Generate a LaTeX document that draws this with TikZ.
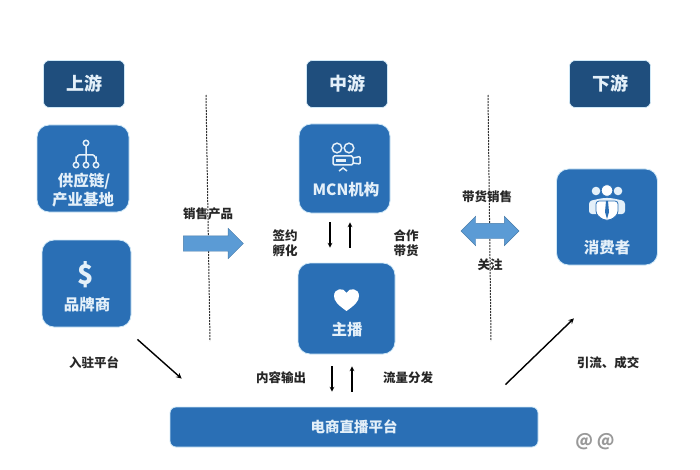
\documentclass[tikz,border=0pt]{standalone}
\usepackage{fontspec}
\setmainfont{Noto Sans CJK SC}
\usetikzlibrary{shapes.arrows}
\definecolor{headblue}{HTML}{1F4E7D}
\definecolor{boxblue}{HTML}{2A6FB5}
\definecolor{arrowblue}{HTML}{5B9BD5}
\definecolor{halo}{HTML}{CFE8F7}
\definecolor{boxtext}{HTML}{E4F0F9}

\begin{document}
\begin{tikzpicture}[x=1pt,y=-1pt,thick]
    % `header' is for the three column titles.
    % `actor' is for the blue boxes, `actortext' for the words on them.
    % `note' is for the black labels beside the arrows.
    \tikzstyle{header} = [fill=headblue,draw=halo,line width=0.6pt,rounded corners=6pt,minimum width=81pt,minimum height=47pt,inner sep=0pt,text=boxtext,font=\bfseries\fontsize{18}{18}\selectfont]
    \tikzstyle{actor} = [fill=boxblue,draw=halo,line width=0.8pt,rounded corners=12pt,inner sep=0pt]
    \tikzstyle{actortext} = [text=boxtext,inner sep=0pt,font=\bfseries\fontsize{15.5}{15.5}\selectfont]
    \tikzstyle{note} = [text=black!85,inner sep=0pt,font=\bfseries\fontsize{12.5}{12.5}\selectfont]
    \tikzstyle{divider} = [black!80,line width=1pt,dash pattern=on 2pt off 1pt]
    \tikzstyle{link} = [black,line width=1.1pt,-stealth]
    \tikzstyle{glyph} = [draw=boxtext,line width=1.5pt]
    \useasboundingbox (0,0) rectangle (700,470);
    %
    % Column titles.
    \node[header] (up) at (84,84) {上游};
    \node[header] (mid) at (347,84) {中游};
    \node[header] (down) at (610,84) {下游};
    %
    % Dashed dividers.
    \coordinate (div1a) at (206,95);
    \coordinate (div1b) at (210,341);
    \coordinate (div2a) at (488,95);
    \coordinate (div2b) at (491,341);
    \draw[divider] (div1a) -- (div1b);
    \draw[divider] (div2a) -- (div2b);
    %
    % Blue boxes.
    \node[actor,minimum width=92pt,minimum height=87pt] (supply) at (83,168.5) {};
    \node[actor,minimum width=89pt,minimum height=87pt] (brand) at (86.5,283.5) {};
    \node[actor,minimum width=91pt,minimum height=89pt] (mcn) at (344.5,168.5) {};
    \node[actor,minimum width=97pt,minimum height=91pt] (host) at (346.5,308.5) {};
    \node[actor,minimum width=101pt,minimum height=96pt] (buyer) at (607,217) {};
    \node[actor,rounded corners=6pt,minimum width=368pt,minimum height=40pt] (platform) at (354,427) {};
    %
    % Words on the boxes.
    \node[actortext] (supply1) at (84,181) {供应链/};
    \node[actortext] (supply2) at (83,200) {产业基地};
    \node[actortext] (brandname) at (87,305) {品牌商};
    \node[actortext] (mcnname) at (346,190) {MCN机构};
    \node[actortext] (hostname) at (347,330) {主播};
    \node[actortext] (buyername) at (607,248) {消费者};
    \node[actortext,font=\bfseries\fontsize{14.5}{14.5}\selectfont] (platformname) at (354,427) {电商直播平台};
    \node[actortext,font=\bfseries\fontsize{27}{27}\selectfont] (dollar) at (86,275) {\$};
    %
    % Tree icon.
    \draw[glyph] (86,146) -- (86,155) (76,162) -- (76,158) to[out=-90,in=180] (79,155) -- (93,155) to[out=0,in=-90] (96,158) -- (96,162) (86,155) -- (86,162);
    \draw[glyph] (86,143) circle (2.7) (76,165) circle (2.7) (86,165) circle (2.7) (96,165) circle (2.7);
    % Camera icon.
    \draw[glyph] (337,148) circle (4.8) (349,148) circle (4.8);
    \draw[glyph,rounded corners=1.5pt] (333,156) rectangle (353,165);
    \draw[glyph,rounded corners=1pt] (353,158) -- (360,156.5) -- (360,164) -- (353,163);
    \draw[glyph] (339,171) -- (343,168) -- (347,171);
    \fill[boxtext] (336,159) rectangle (346,162);
    % Heart icon.
    \fill[white] (346.5,311) .. controls (338,305) and (334,301) .. (334,296) .. controls (334,288) and (344,287) .. (346.5,293) .. controls (349,287) and (359,288) .. (359,296) .. controls (359,301) and (355,305) .. (346.5,311) -- cycle;
    % People icon.
    \fill[boxtext] (596,191) circle (4.3) (618,191) circle (4.3);
    \fill[boxtext,rounded corners=3pt] (589,214) -- (589,201) -- (603,198) -- (611,198) -- (625,201) -- (625,214) -- cycle;
    \fill[white,draw=boxblue,line width=0.8pt] (607,190.5) circle (5.8);
    \fill[white,draw=boxblue,line width=0.8pt,rounded corners=3pt] (596,214) -- (596,201) -- (618,201) -- (618,214) -- (611,220) -- (603,220) -- cycle;
    \fill[boxblue] (606,201) -- (608,201) -- (609,212) -- (607,219) -- (605,212) -- cycle;
    %
    % Block arrows.
    \node[single arrow,fill=arrowblue,draw=arrowblue!80!black,line width=0.4pt,inner sep=0pt,text height=15pt,text depth=0pt,single arrow head extend=7.5pt,single arrow head indent=0pt,minimum height=60pt] (sell) at (209.5,243.5) {};
    \node[double arrow,fill=arrowblue,draw=arrowblue!80!black,line width=0.4pt,inner sep=0pt,text height=15pt,text depth=0pt,double arrow head extend=7pt,double arrow head indent=0pt,minimum height=58pt] (trade) at (490,231) {};
    %
    % Thin arrows.
    \draw[link] ([xshift=-14.5pt,yshift=-9pt]mcn.south) -- ([xshift=-16.5pt,yshift=15pt]host.north);
    \draw[link] ([xshift=3.5pt,yshift=15pt]host.north) -- ([xshift=5.5pt,yshift=-9pt]mcn.south);
    \draw[link] ([xshift=-14.5pt,yshift=-12pt]host.south) -- ([xshift=-22pt,yshift=15pt]platform.north);
    \draw[link] ([xshift=-2pt,yshift=15pt]platform.north) -- ([xshift=5.5pt,yshift=-12pt]host.south);
    \draw[link,line width=1.4pt] ([xshift=6pt,yshift=-12pt]brand.south east) -- ([xshift=12pt,yshift=28pt]platform.north west);
    \draw[link,line width=1.4pt] ([xshift=-33pt,yshift=22pt]platform.north east) -- ([xshift=-84pt,yshift=-53pt]buyer.south east);
    %
    % Labels.
    \node[note] (lsell) at (208,214) {销售产品};
    \node[note,align=center] (lsign) at (285,243) {签约\\[2pt]孵化};
    \node[note,align=center] (lcoop) at (406,243) {合作\\[2pt]带货};
    \node[note] (ltrade) at (487,197) {带货销售};
    \node[note] (lfollow) at (490,265) {关注};
    \node[note] (lenter) at (94,363) {入驻平台};
    \node[note] (lcontent) at (281,378) {内容输出};
    \node[note] (lflow) at (408,378) {流量分发};
    \node[note] (ldeal) at (608,363) {引流、成交};
    \node[text=black!40,inner sep=0pt,font=\bfseries\fontsize{17}{17}\selectfont] (mark) at (595,442) {@ @};
\end{tikzpicture}
\end{document}
